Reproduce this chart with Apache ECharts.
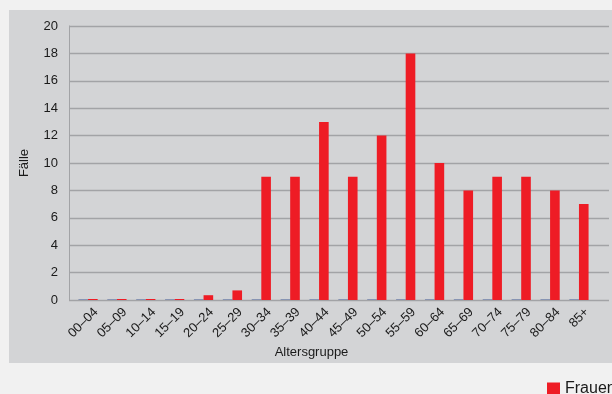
<!DOCTYPE html>
<html>
<head>
<meta charset="utf-8">
<script src="https://cdn.jsdelivr.net/npm/echarts@6/dist/echarts.min.js"></script>
<style>
  html, body { margin: 0; padding: 0; background: #f1f1f1; }
  #chart { width: 612px; height: 394px; }
</style>
</head>
<body>
<div id="chart"></div>
<script>
// Age groups (x axis)
const ageGroups = ['00–04', '05–09', '10–14', '15–19', '20–24', '25–29', '30–34', '35–39',
  '40–44', '45–49', '50–54', '55–59', '60–64', '65–69', '70–74', '75–79', '80–84', '85+'];
// Cases per age group
const maenner = [0, 0, 0, 0, 0, 0, 0, 0, 0, 0, 0, 0, 0, 0, 0, 0, 0, 0];
const frauen = [0, 0, 0, 0, 0.35, 0.7, 9, 9, 13, 9, 12, 18, 10, 8, 9, 9, 8, 7];
// Y axis range
const yMin = 0, yMax = 20, yStep = 2;

const font = '"Liberation Sans", Arial, Helvetica, sans-serif';
const gridLine = '#a2a3a6';
const ink = '#1a1a1a';

const chart = echarts.init(document.getElementById('chart'), null, { renderer: 'canvas' });
chart.setOption({
  animation: false,
  backgroundColor: '#f1f1f1',
  textStyle: { fontFamily: font },
  graphic: [
    {
      type: 'rect', z: -10, silent: true,
      shape: { x: 9, y: 10, width: 610, height: 353 },
      style: { fill: '#d3d4d6' }
    },
    {
      type: 'text', silent: true, x: 311.5, y: 352,
      style: { text: 'Altersgruppe', fontSize: 13, fill: ink, fontFamily: font, align: 'center', verticalAlign: 'middle' }
    }
  ],
  grid: [
    // gridline frame with the value axis
    { left: 69, top: 26, width: 540, height: 274 },
    // bars
    { left: 73.6, top: 26, width: 519.8, height: 274 },
    // category labels, set slightly right and below the bars
    { left: 81.6, top: 26, width: 519.8, height: 276 }
  ],
  xAxis: [
    { gridIndex: 0, type: 'category', data: ageGroups, show: false },
    { gridIndex: 1, type: 'category', data: ageGroups, show: false },
    {
      gridIndex: 2, type: 'category', data: ageGroups,
      axisLine: { show: false }, axisTick: { show: false },
      axisLabel: { rotate: 45, fontSize: 13, color: ink, margin: 8, interval: 0, fontFamily: font }
    }
  ],
  yAxis: [
    {
      gridIndex: 0, type: 'value', min: yMin, max: yMax, interval: yStep,
      axisLine: { show: true, lineStyle: { color: gridLine, width: 1 } },
      axisTick: { show: false },
      splitLine: { show: true, lineStyle: { color: gridLine, width: 1.3 } },
      axisLabel: { fontSize: 13, color: ink, margin: 11, fontFamily: font },
      name: 'Fälle', nameLocation: 'middle', nameGap: 38,
      nameTextStyle: { fontSize: 13, color: ink, fontFamily: font }
    },
    { gridIndex: 1, type: 'value', min: yMin, max: yMax, interval: yStep, show: false, splitLine: { show: false } },
    { gridIndex: 2, type: 'value', min: yMin, max: yMax, interval: yStep, show: false, splitLine: { show: false } }
  ],
  legend: {
    data: ['Frauen'],
    left: 542, top: 376,
    itemWidth: 13, itemHeight: 13,
    icon: 'rect',
    textStyle: { fontSize: 16, color: ink, fontFamily: font }
  },
  series: [
    {
      name: 'Männer', type: 'bar', xAxisIndex: 1, yAxisIndex: 1,
      data: maenner, barWidth: '33.3%', barGap: '0%', barMinHeight: 1,
      itemStyle: { color: '#8794b3' }
    },
    {
      name: 'Frauen', type: 'bar', xAxisIndex: 1, yAxisIndex: 1,
      data: frauen, barWidth: '33.3%', barGap: '0%', barMinHeight: 1,
      itemStyle: { color: '#ee1c25' }
    }
  ]
});
</script>
</body>
</html>
